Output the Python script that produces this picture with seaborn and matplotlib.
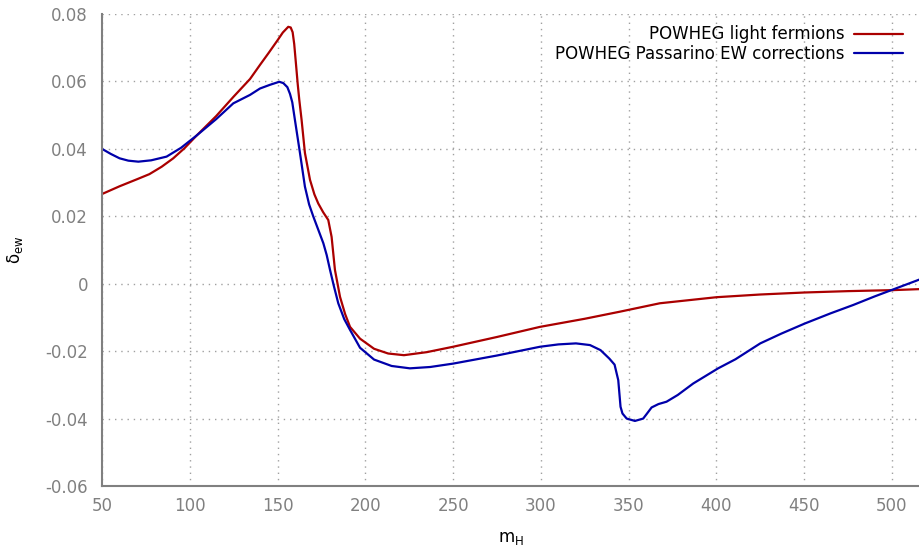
import matplotlib
matplotlib.use("Agg")
import matplotlib.pyplot as plt
import seaborn as sns
import pandas as pd

red_label = "POWHEG light fermions"
blue_label = "POWHEG Passarino EW corrections"

red_x = [50, 60, 70, 77, 84, 90.6, 97, 104, 115, 125, 134.3, 140, 145, 150, 153, 156.1, 157.5,
         158.6, 159.5, 160.5, 161.5, 162.4, 163.7, 165.6, 168.5, 171, 173.2, 176, 178.9,
         180.8, 182.7, 185.6, 188.5, 191.3, 197, 205, 213, 222, 235, 250, 275, 299.5, 325,
         345, 367.8, 400.1, 425, 450.4, 475, 500.7, 516]
red_y = [0.0266, 0.0289, 0.0310, 0.0325, 0.0347, 0.0372, 0.0402, 0.0440, 0.0497, 0.0555,
         0.0607, 0.0649, 0.0685, 0.0722, 0.0745, 0.0762, 0.0760, 0.0746, 0.0711, 0.0652,
         0.0592, 0.0545, 0.0486, 0.0388, 0.0308, 0.0265, 0.0238, 0.0212, 0.0189, 0.0139,
         0.0041, -0.0039, -0.0090, -0.0128, -0.0163, -0.0193, -0.0207, -0.0212, -0.0203,
         -0.0187, -0.0158, -0.0128, -0.0104, -0.0083, -0.0058, -0.0040, -0.0032, -0.0026,
         -0.0022, -0.0019, -0.0016]

blue_x = [50, 55, 60, 65, 70.7, 78, 86.8, 95, 104, 115, 124.8, 134.3, 140, 145.7, 151,
          153.3, 155.6, 157.1, 158.4, 159.9, 162.8, 165.6, 168, 170.4, 173, 176.1, 178,
          179.9, 182, 184.6, 188, 191.3, 197, 205, 215, 225.4, 237, 250, 275, 299.5, 310,
          320, 328, 334, 339, 342, 344.1, 345.4, 346.5, 348.9, 353.6, 358.3, 360.5, 363.1,
          367, 371.6, 378, 386.8, 401, 410.9, 425, 437, 450.4, 465, 478, 490, 500.7, 516]
blue_y = [0.0400, 0.0385, 0.0372, 0.0365, 0.0362, 0.0366, 0.0377, 0.0403, 0.0440, 0.0488,
          0.0535, 0.0560, 0.0579, 0.0590, 0.0599, 0.0595, 0.0583, 0.0563, 0.0538, 0.0486,
          0.0387, 0.0288, 0.0235, 0.0199, 0.0163, 0.0120, 0.0085, 0.0041, -0.0005, -0.0058,
          -0.0105, -0.0137, -0.0190, -0.0225, -0.0244, -0.0251, -0.0247, -0.0237, -0.0213,
          -0.0187, -0.0180, -0.0177, -0.0182, -0.0197, -0.0222, -0.0240, -0.0286, -0.0365,
          -0.0385, -0.0400, -0.0407, -0.0400, -0.0385, -0.0367, -0.0357, -0.0350, -0.0330,
          -0.0296, -0.0251, -0.0224, -0.0177, -0.0148, -0.0118, -0.0088, -0.0063, -0.0038,
          -0.0017, 0.0013]

x_ticks = [50, 100, 150, 200, 250, 300, 350, 400, 450, 500]
y_ticks = [-0.06, -0.04, -0.02, 0, 0.02, 0.04, 0.06, 0.08]
y_tick_labels = ["-0.06", "-0.04", "-0.02", "0", "0.02", "0.04", "0.06", "0.08"]

df = pd.concat([
    pd.DataFrame({"m": red_x, "d": red_y, "s": red_label}),
    pd.DataFrame({"m": blue_x, "d": blue_y, "s": blue_label}),
], ignore_index=True)

sns.set_style("white")
plt.rcParams["font.family"] = ["DejaVu Sans"]

fig = plt.figure(figsize=(9.2, 5.49), dpi=100)
ax = fig.add_axes([102 / 920, 1 - 486 / 549, 818 / 920, 472 / 549])

sns.lineplot(data=df, x="m", y="d", hue="s", sort=False, estimator=None,
             palette={red_label: "#aa0000", blue_label: "#0000aa"},
             linewidth=1.6, ax=ax)

ax.set_xlim(50, 516)
ax.set_ylim(-0.06, 0.08)
ax.set_xticks(x_ticks)
ax.set_yticks(y_ticks)
ax.set_yticklabels(y_tick_labels)

gray = "#808080"
for side in ["top", "right"]:
    ax.spines[side].set_visible(False)
for side in ["left", "bottom"]:
    ax.spines[side].set_color(gray)
    ax.spines[side].set_linewidth(1.5)
ax.tick_params(axis="both", direction="in", length=8, width=1.5, color=gray,
               labelcolor=gray, labelsize=12, pad=8)
ax.tick_params(axis="y", pad=10)
ax.grid(True, linestyle=(0, (1, 3.5)), color="#a0a0a0", linewidth=1.0)
ax.set_axisbelow(True)

ax.set_xlabel(r"$\mathregular{m_H}$", fontsize=12, color="black", labelpad=10)
ax.set_ylabel(r"$\mathregular{\delta_{ew}}$", fontsize=12, color="black")
ax.yaxis.set_label_coords(-0.094, 0.5)

leg = ax.legend(loc="upper right", frameon=False, markerfirst=False, fontsize=12,
                handlelength=2.9, handletextpad=0.6, labelspacing=0.1,
                bbox_to_anchor=(0.987, 0.99), borderaxespad=0)
for t in leg.get_texts():
    t.set_ha("right")
    t.set_color("black")
leg._legend_box.align = "right"

fig.savefig("out.png", dpi=100)
